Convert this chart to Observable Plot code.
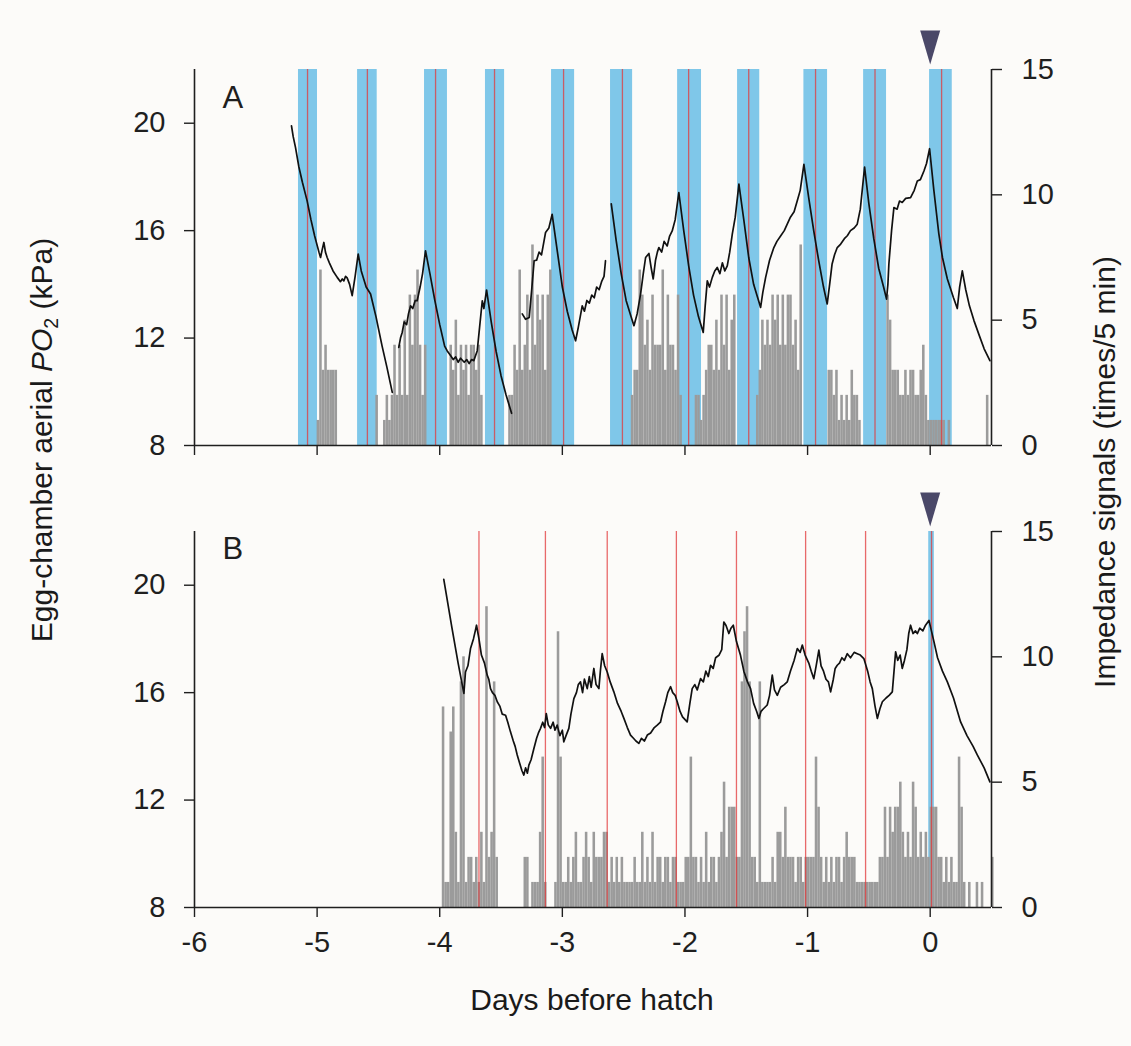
<!DOCTYPE html>
<html><head><meta charset="utf-8">
<script src="https://cdn.jsdelivr.net/npm/d3@7"></script>
<script src="https://cdn.jsdelivr.net/npm/@observablehq/plot@0.6"></script>
<style>
body{margin:0;background:#fcfbf9;}
#wrap{position:relative;width:1131px;height:1046px;overflow:hidden;}
#wrap svg{position:absolute;left:0;top:0;}
.title{position:absolute;font-family:"Liberation Sans Narrow","Arial Narrow","Liberation Sans",Arial,sans-serif;font-size:30px;color:#1a1a1a;white-space:nowrap;transform:translate(-50%,-50%);}
.rot{transform:translate(-50%,-50%) rotate(-90deg);}
</style></head><body><div id="wrap"></div>
<script>
// ---------- data ----------
const xDomain = [-6, 0.5];
const xTicks = [-6, -5, -4, -3, -2, -1, 0];
const po2Domain = [8, 22];
const po2Ticks = [8, 12, 16, 20];
const impDomain = [0, 15];
const impTicks = [0, 5, 10, 15];
const hatchDay = [0];
const panelLabels = ["A", "B"];

// Panel A: blue bands (start, end) and red lines (days)
const bandA_start = [-5.152, -4.67, -4.124, -3.627, -3.088, -2.607, -2.06, -1.571, -1.03, -0.543, -0.005];
const bandA_end   = [-4.997, -4.51, -3.937, -3.471, -2.90, -2.427, -1.865, -1.39, -0.837, -0.356, 0.18];
const redA = [-5.078, -4.59, -4.034, -3.553, -2.99, -2.51, -1.97, -1.48, -0.935, -0.45, 0.093];

// Panel B
const bandB_start = [-0.012];
const bandB_end   = [0.034];
const redB = [-3.68, -3.138, -2.634, -2.07, -1.58, -1.016, -0.527, 0.011];

// Impedance signals (times / 5 min), read in 30-min bins
const impStepDays = 1 / 48;
const impA_start = -5.0;
const impA = [
 1,7,3,4,3,3,3,3,
 0,0,0,0,0,0,0,0,0,0,0,0,0,0,0,
 2,0,0,
 1,2,1,2,4,2,4,2,5,2,6,4,6,7,4,2,4,
 0,0,0,0,0,0,0,0,0,
 4,3,5,2,4,3,4,2,4,4,3,4,2,
 0,0,0,0,0,0,0,0,0,0,
 2,2,4,3,7,3,4,6,3,8,4,6,5,6,3,6,7,
 0,0,0,0,0,0,0,0,0,0,0,0,0,0,0,0,0,0,0,0,0,0,0,0,0,0,0,0,0,0,0,
 2,3,3,7,6,4,5,3,6,4,4,4,7,3,6,4,4,3,6,2,
 0,0,0,0,0,
 2,2,1,2,3,4,4,3,5,3,6,4,6,3,5,6,
 0,0,0,0,0,0,0,0,
 2,3,5,4,5,4,6,5,6,4,6,4,6,6,4,5,3,8,
 0,0,0,0,0,0,0,0,0,0,
 3,3,2,3,1,2,1,2,1,3,2,2,
 1,
 0,0,0,0,0,0,0,0,0,0,
 6,5,3,3,3,2,2,3,2,3,3,2,2,3,4,2,1,
 1,1,1,1,1,1,0,1,0,0,
 0,0,0,0,0,0,0,0,0,0,0,0,
 2,0
];
const impB_start = -4.0;
const impB = [
 0,8,1,1,7,8,3,1,9,10,1,2,2,1,2,1,3,1,12,2,3,9,2,
 0,0,0,0,0,0,0,0,0,0,
 2,2,0,1,1,1,3,6,1,
 0,0,0,
 1,11,6,1,1,2,1,2,3,1,1,2,3,2,1,3,2,2,2,3,3,1,2,1,2,1,2,1,1,1,1,2,1,1,3,1,2,1,3,1,
 2,2,1,2,2,1,2,2,1,1,1,2,2,6,2,2,1,2,1,3,1,2,2,1,2,3,5,2,4,4,4,2,2,9,11,12,9,2,2,1,
 9,1,1,1,1,2,1,3,3,2,4,2,2,2,1,2,2,1,2,2,2,2,6,4,2,1,2,1,2,1,2,2,1,2,3,2,2,2,1,1,
 1,1,1,1,1,1,1,2,2,4,2,4,3,4,4,5,3,2,3,2,5,4,2,3,2,3,2,4,4,4,2,2,1,2,1,2,1,1,6,4,
 1,0,1,0,0,1,0,1,0,0,0,2
];

// Egg-chamber aerial PO2 (kPa); null = gap in record
const po2A_day = [
 -5.209,-5.195,-5.176,-5.15,-5.12,-5.081,-5.05,-5.02,-4.985,-4.972,-4.958,-4.945,-4.932,-4.918,-4.9,-4.87,-4.836,-4.81,-4.795,-4.782,-4.768,-4.755,-4.735,-4.714,-4.69,-4.665,-4.64,-4.6,-4.564,-4.52,-4.47,-4.43,-4.387,
 -4.36,
 -4.334,-4.32,-4.306,-4.29,-4.27,-4.255,-4.238,-4.22,-4.2,-4.184,-4.16,-4.14,-4.116,-4.08,-4.04,-4.0,-3.96,-3.94,-3.912,-3.89,-3.87,-3.85,-3.83,-3.8,-3.78,-3.76,-3.74,-3.722,-3.694,-3.675,-3.653,-3.64,-3.618,-3.58,-3.54,-3.5,-3.46,-3.414,
 -3.37,
 -3.327,-3.3,-3.27,-3.25,-3.23,-3.21,-3.19,-3.17,-3.15,-3.137,-3.11,-3.083,-3.04,-3.0,-2.96,-2.92,-2.892,-2.87,-2.838,-2.82,-2.8,-2.78,-2.76,-2.74,-2.72,-2.7,-2.68,-2.66,-2.648,
 -2.62,
 -2.601,-2.56,-2.52,-2.48,-2.44,-2.416,-2.39,-2.362,-2.34,-2.321,-2.294,-2.275,-2.259,-2.24,-2.225,-2.213,-2.19,-2.17,-2.145,-2.125,-2.104,-2.08,-2.05,-2.01,-1.97,-1.93,-1.89,-1.851,-1.835,-1.818,-1.8,-1.777,-1.757,-1.737,-1.715,-1.695,-1.675,-1.655,-1.635,-1.614,-1.59,-1.56,-1.52,-1.48,-1.44,-1.4,-1.383,-1.365,-1.342,-1.31,-1.275,-1.25,-1.22,-1.19,-1.166,-1.14,-1.11,-1.084,-1.06,-1.03,-0.99,-0.95,-0.91,-0.87,-0.84,-0.82,-0.8,-0.78,-0.758,-0.73,-0.7,-0.676,-0.65,-0.62,-0.595,-0.57,-0.535,-0.5,-0.46,-0.42,-0.38,-0.356,-0.345,-0.337,-0.315,-0.296,-0.27,-0.25,-0.228,-0.2,-0.16,-0.13,-0.105,-0.08,-0.051,-0.03,-0.005,0.03,0.07,0.1,0.14,0.19,0.221,0.24,0.262,0.29,0.32,0.357,0.4,0.44,0.487
];
const po2A_val = [
 19.9,19.5,19.09,18.4,17.8,17.1,16.4,15.8,15.2,15.0,15.3,15.56,15.2,15.0,14.8,14.5,14.26,14.1,14.2,14.13,14.3,14.24,14.0,13.58,14.3,15.13,14.5,13.9,13.64,12.8,11.7,10.9,9.98,
 null,
 11.65,12.0,12.21,12.6,12.5,12.9,13.2,13.1,13.4,13.39,13.9,14.4,15.25,14.4,13.4,12.5,11.7,11.53,11.35,11.2,11.3,11.1,11.25,11.1,11.2,11.05,11.2,11.16,11.53,12.4,13.39,13.1,13.79,12.6,11.5,10.6,9.9,9.2,
 null,
 12.9,12.7,12.77,13.8,14.88,14.9,15.2,15.1,15.6,15.93,16.1,16.61,15.2,13.9,13.0,12.3,11.9,12.4,13.2,13.0,13.4,13.3,13.6,13.5,13.9,13.8,14.1,14.3,14.88,
 null,
 17.0,15.6,14.4,13.4,12.8,12.46,12.9,13.64,14.4,15.0,15.15,14.6,14.2,14.9,15.2,15.37,15.2,15.6,15.43,15.8,15.99,16.4,17.42,16.0,14.7,13.6,12.8,12.21,13.2,14.13,13.9,14.26,14.5,14.63,14.4,14.8,14.5,14.69,15.2,15.87,16.5,17.73,16.4,15.0,14.0,13.4,13.14,13.7,14.26,14.9,15.37,15.6,15.8,16.0,16.24,16.5,16.7,17.11,17.5,18.47,17.2,16.0,14.9,13.9,13.27,14.0,14.76,15.1,15.37,15.5,15.7,15.81,16.0,16.1,16.24,16.8,18.37,17.0,15.7,14.6,13.9,13.45,14.0,14.76,16.0,16.86,16.8,17.1,17.05,17.2,17.23,17.5,17.85,17.9,18.22,18.5,19.05,17.5,15.9,15.0,14.2,13.5,13.1,13.9,14.5,13.8,13.2,12.65,12.1,11.6,11.16
];
const po2B_day = [
 -3.967,-3.9,-3.85,-3.803,-3.79,-3.77,-3.749,-3.725,-3.71,-3.7,-3.68,-3.66,-3.635,-3.613,-3.6,-3.586,-3.57,-3.55,-3.531,-3.51,-3.49,-3.463,-3.445,-3.423,-3.4,-3.385,-3.368,-3.35,-3.33,-3.314,-3.3,-3.285,-3.273,-3.255,-3.232,-3.21,-3.195,-3.178,-3.16,-3.145,-3.131,-3.115,-3.096,-3.075,-3.06,-3.042,-3.02,-3.0,-2.988,-2.97,-2.947,-2.93,-2.906,-2.885,-2.87,-2.852,-2.835,-2.82,-2.797,-2.78,-2.765,-2.743,-2.725,-2.702,-2.69,-2.675,-2.655,-2.634,-2.61,-2.58,-2.55,-2.52,-2.498,-2.47,-2.444,-2.42,-2.4,-2.376,-2.355,-2.33,-2.307,-2.28,-2.25,-2.226,-2.2,-2.18,-2.158,-2.14,-2.117,-2.1,-2.08,-2.063,-2.04,-2.02,-1.982,-1.96,-1.941,-1.92,-1.9,-1.873,-1.85,-1.83,-1.81,-1.791,-1.77,-1.75,-1.723,-1.7,-1.683,-1.665,-1.642,-1.625,-1.606,-1.58,-1.547,-1.52,-1.49,-1.465,-1.44,-1.415,-1.397,-1.38,-1.36,-1.329,-1.31,-1.288,-1.27,-1.247,-1.22,-1.19,-1.166,-1.14,-1.11,-1.084,-1.06,-1.043,-1.02,-0.99,-0.97,-0.949,-0.93,-0.908,-0.89,-0.87,-0.85,-0.83,-0.812,-0.79,-0.775,-0.758,-0.74,-0.72,-0.7,-0.676,-0.65,-0.62,-0.595,-0.57,-0.541,-0.51,-0.49,-0.472,-0.45,-0.431,-0.41,-0.39,-0.36,-0.335,-0.309,-0.295,-0.282,-0.265,-0.245,-0.228,-0.21,-0.19,-0.175,-0.16,-0.14,-0.12,-0.105,-0.085,-0.06,-0.038,-0.01,0.01,0.031,0.06,0.1,0.14,0.19,0.248,0.3,0.35,0.384,0.44,0.487
];
const po2B_val = [
 20.22,18.4,17.1,15.97,16.77,17.0,17.64,18.0,18.3,18.51,18.0,17.4,17.1,16.65,16.5,16.15,16.0,15.9,15.66,15.5,15.2,15.16,14.9,14.54,14.2,14.0,13.68,13.4,13.1,12.93,13.2,13.0,13.3,13.5,13.92,14.3,14.5,14.67,14.9,14.7,15.22,14.8,14.67,14.9,14.6,14.79,14.4,14.6,14.17,14.4,14.67,15.2,15.78,16.0,16.3,16.4,16.0,16.5,16.15,16.6,16.2,16.9,16.3,16.15,16.8,17.45,17.0,16.77,16.4,16.03,15.6,15.3,15.04,14.7,14.42,14.3,14.2,14.11,14.3,14.2,14.42,14.5,14.7,14.79,14.9,15.3,15.66,16.0,16.22,16.0,15.9,15.66,15.3,15.1,14.91,15.6,16.15,16.3,16.1,16.52,16.4,16.8,16.6,17.02,16.9,17.3,17.39,17.6,18.63,18.5,18.2,18.4,18.51,17.9,17.39,16.8,16.4,16.15,15.6,15.3,15.04,15.3,15.4,15.54,15.9,16.65,16.1,15.9,16.2,16.3,16.4,16.8,17.2,17.64,17.5,17.77,17.4,17.1,16.8,16.52,17.0,17.58,17.0,16.8,16.5,16.4,16.03,16.5,16.9,17.02,17.1,17.3,17.2,17.45,17.3,17.5,17.45,17.4,17.27,16.8,16.4,16.15,15.5,15.04,15.4,15.66,15.8,15.9,16.03,16.8,17.52,17.2,17.4,16.9,17.2,17.6,18.2,18.51,18.2,18.3,18.2,18.4,18.3,18.51,18.69,18.3,17.89,17.3,16.8,16.4,15.8,14.91,14.4,14.0,13.68,13.2,12.68
];

// ---------- drawing ----------
const W = 1131, H = 1046;
const frameLeft = 194, frameRight = 991;
const blue = "#7fc7e9", gray = "#9b9b9b", red = "#e2383a", ink = "#1f1f1f";
const arrowSymbol = { draw(ctx) { ctx.moveTo(-10, -34); ctx.lineTo(10, -34); ctx.lineTo(0, 0); ctx.closePath(); } };

function bins(values, start) {
  return values.map((v, i) => ({x1: start + i * impStepDays, x2: start + (i + 1) * impStepDays, v})).filter(d => d.v > 0);
}
function bands(s, e) { return s.map((d, i) => ({s: d, e: e[i]})); }

function drawPanel(opts) {
  const common = {
    width: W, height: H,
    marginLeft: frameLeft, marginRight: W - frameRight,
    marginTop: opts.top, marginBottom: H - opts.bottom,
    style: {background: "transparent", fontFamily: "'Liberation Sans', Arial, sans-serif", fontSize: "29px", color: ink, overflow: "visible"}
  };
  const under = Plot.plot({
    ...common,
    x: {domain: xDomain, axis: null},
    y: {domain: impDomain, axis: null},
    marks: [
      Plot.rect(opts.bands, {x1: "s", x2: "e", fill: blue}),
      Plot.rect(opts.bars, {x1: "x1", x2: "x2", y1: 0, y2: "v", fill: gray}),
      Plot.ruleX(opts.red, {stroke: red, strokeOpacity: 0.75, strokeWidth: 1.3}),
      Plot.ruleX([xDomain[1]], {stroke: ink, strokeWidth: 1.6}),
      Plot.axisY({anchor: "right", ticks: impTicks, tickSize: 10, tickPadding: 20, tickFormat: d => String(d), label: null, stroke: ink, strokeWidth: 1.4})
    ]
  });
  const idx = d3.range(opts.day.length);
  const over = Plot.plot({
    ...common,
    x: {domain: xDomain, axis: null},
    y: {domain: po2Domain, axis: null},
    marks: [
      Plot.line(idx, {x: i => opts.day[i], y: i => opts.val[i], stroke: "#111", strokeWidth: 1.7}),
      Plot.ruleX([xDomain[0]], {stroke: ink, strokeWidth: 1.6}),
      Plot.ruleY([po2Domain[0]], {stroke: ink, strokeWidth: 1.6}),
      Plot.axisY({anchor: "left", ticks: po2Ticks, tickSize: 10, tickPadding: 19, label: null, stroke: ink, strokeWidth: 1.4}),
      Plot.axisX({anchor: "bottom", ticks: xTicks, tickSize: 10, tickPadding: 14, label: null, stroke: ink, strokeWidth: 1.4,
        tickFormat: opts.xLabels ? (d => String(d)) : (() => "")}),
      Plot.text([opts.label], {frameAnchor: "top-left", textAnchor: "start", lineAnchor: "top", dx: 28, dy: opts.labelDy, fontSize: 31, fill: ink}),
      Plot.dot(hatchDay, {x: d => d, frameAnchor: "top", symbol: arrowSymbol, fill: "#4a4868", stroke: "none", dy: -5})
    ]
  });
  return [under, over];
}

const wrap = document.getElementById("wrap");
const panelA = drawPanel({top: 69, bottom: 445, bands: bands(bandA_start, bandA_end), red: redA, bars: bins(impA, impA_start),
  day: po2A_day, val: po2A_val, label: panelLabels[0], labelDy: 16, xLabels: false});
const panelB = drawPanel({top: 531, bottom: 907, bands: bands(bandB_start, bandB_end), red: redB, bars: bins(impB, impB_start),
  day: po2B_day, val: po2B_val, label: panelLabels[1], labelDy: 5, xLabels: true});
for (const svg of [...panelA, ...panelB]) wrap.appendChild(svg);

function addTitle(html, cx, cy, rotate) {
  const d = document.createElement("div");
  d.className = "title" + (rotate ? " rot" : "");
  d.style.left = cx + "px"; d.style.top = cy + "px";
  d.innerHTML = html;
  wrap.appendChild(d);
}
addTitle('Egg-chamber aerial <i>PO</i><sub style="font-size:0.65em;vertical-align:-0.3em;line-height:0">2</sub> (kPa)', 42, 440, true);
addTitle('Impedance signals (times/5 min)', 1105, 472, true);
addTitle('Days before hatch', 592, 1000, false);
</script></body></html>
